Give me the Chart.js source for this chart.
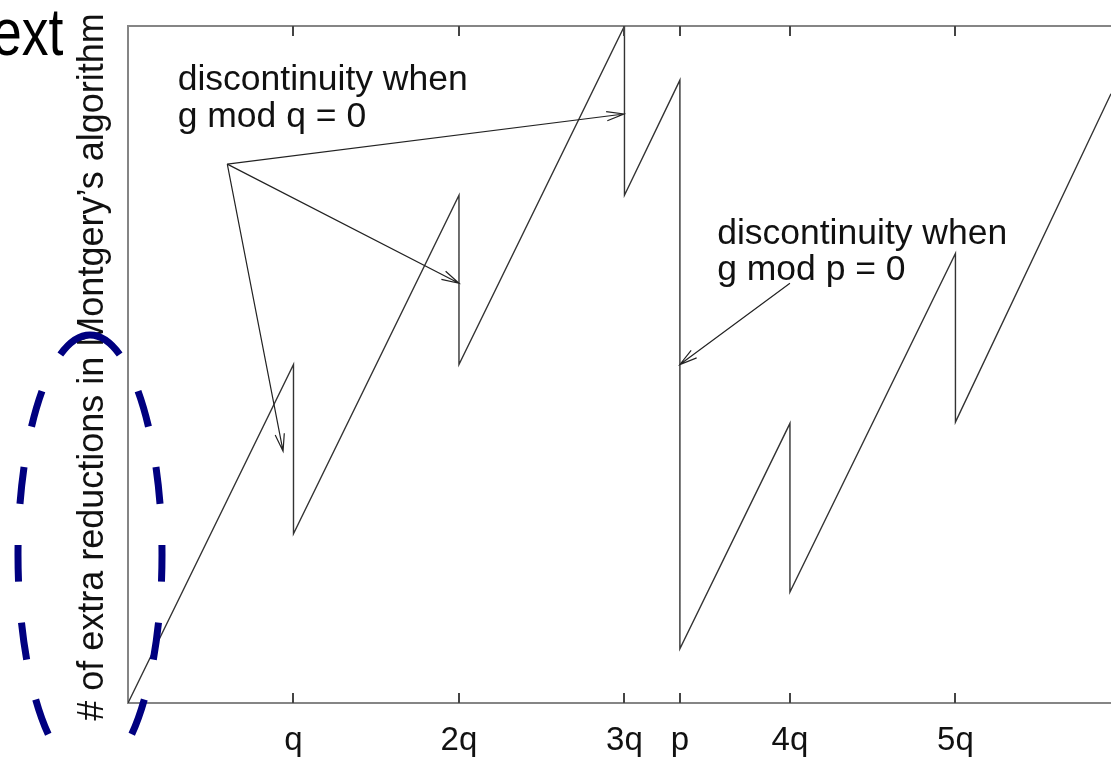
<!DOCTYPE html>
<html lang="en">
<head>
<meta charset="UTF-8">
<title>Extra reductions in Montgomery's algorithm</title>
<script src="https://cdn.jsdelivr.net/npm/chart.js"></script>
<style>
  body { margin: 0; background: #fff; overflow: hidden; }
  canvas { display: block; }
</style>
</head>
<body>
<canvas id="chart" width="1111" height="760"></canvas>
<script>
// g measured in units of q; p falls about a third of the way from 3q to 4q
const tickValues = [1, 2, 3, 3.335, 4, 5];
const tickLabels = ['q', '2q', '3q', 'p', '4q', '5q'];
const gValues = [0, 1, 1, 2, 2, 3, 3, 3.335, 3.335, 4, 4, 5, 5, 5.94];
const extraReductions = [0, 50, 25, 75, 50, 100, 75, 92, 8, 41.3, 16.4, 66.4, 41.5, 90];

const X_MAX = 5.94;
const AXIS_GREY = '#858585';
const FONT = '"Liberation Sans", Arial, sans-serif';

function arrow(ctx, x1, y1, x2, y2) {
  const a = Math.atan2(y2 - y1, x2 - x1), len = 18, spread = 0.26;
  ctx.beginPath();
  ctx.moveTo(x1, y1);
  ctx.lineTo(x2, y2);
  ctx.moveTo(x2 - len * Math.cos(a - spread), y2 - len * Math.sin(a - spread));
  ctx.lineTo(x2, y2);
  ctx.lineTo(x2 - len * Math.cos(a + spread), y2 - len * Math.sin(a + spread));
  ctx.stroke();
}

const overlay = {
  id: 'overlay',
  afterDraw(chart) {
    const ctx = chart.ctx;
    const area = chart.chartArea;
    const px = v => chart.scales.x.getPixelForValue(v);
    const py = v => chart.scales.y.getPixelForValue(v);
    ctx.save();

    // tick marks point into the plot, on both bottom and top edges
    ctx.strokeStyle = '#444';
    ctx.lineWidth = 2;
    tickValues.forEach(v => {
      const x = Math.round(px(v));
      ctx.beginPath();
      ctx.moveTo(x, area.bottom);
      ctx.lineTo(x, area.bottom - 10);
      ctx.moveTo(x, area.top);
      ctx.lineTo(x, area.top + 10);
      ctx.stroke();
    });

    // annotations
    ctx.fillStyle = '#111';
    ctx.font = '35.5px ' + FONT;
    ctx.textAlign = 'left';
    ctx.textBaseline = 'alphabetic';
    ctx.fillText('discontinuity when', px(0.3), py(90.6));
    ctx.fillText('g mod q = 0', px(0.3), py(90.6) + 37);
    ctx.fillText('discontinuity when', px(3.56), py(67.8));
    ctx.fillText('g mod p = 0', px(3.56), py(67.8) + 36);

    ctx.strokeStyle = '#222';
    ctx.lineWidth = 1.2;
    const fromX = px(0.6), fromY = py(79.6);
    arrow(ctx, fromX, fromY, px(2.997), py(87));
    arrow(ctx, fromX, fromY, px(2), py(62));
    arrow(ctx, fromX, fromY, px(0.937), py(37.2));
    arrow(ctx, px(4.0), py(62), px(3.335), py(50));

    // y axis title
    ctx.save();
    ctx.translate(103, 367);
    ctx.rotate(-Math.PI / 2);
    ctx.textAlign = 'center';
    ctx.font = '36px ' + FONT;
    ctx.fillText('# of extra reductions in Montgery\u2019s algorithm', 0, 0);
    ctx.restore();

    // leftover of the slide title
    ctx.save();
    ctx.translate(-8, 55);
    ctx.scale(0.8, 1);
    ctx.fillStyle = '#000';
    ctx.font = '67px ' + FONT;
    ctx.textAlign = 'left';
    ctx.fillText('ext', 0, 0);
    ctx.restore();

    // dashed highlight round the axis title, both halves start at the top
    ctx.strokeStyle = '#000080';
    ctx.lineWidth = 7;
    ctx.setLineDash([37, 41]);
    ctx.lineDashOffset = 0;
    ctx.beginPath();
    ctx.ellipse(90, 555, 72, 220, 0, -Math.PI / 2, Math.PI / 2, false);
    ctx.stroke();
    ctx.beginPath();
    ctx.ellipse(90, 555, 72, 220, 0, -Math.PI / 2, Math.PI / 2, true);
    ctx.stroke();

    ctx.restore();
  }
};

new Chart(document.getElementById('chart'), {
  type: 'line',
  data: {
    datasets: [{
      data: gValues.map((g, i) => ({ x: g, y: extraReductions[i] })),
      borderColor: '#333',
      borderWidth: 1.4,
      pointRadius: 0,
      tension: 0,
      fill: false
    }]
  },
  options: {
    responsive: false,
    animation: false,
    events: [],
    layout: { padding: 0 },
    plugins: { legend: { display: false }, tooltip: { enabled: false } },
    scales: {
      x: {
        type: 'linear',
        position: 'bottom',
        min: 0,
        max: X_MAX,
        afterBuildTicks: s => { s.ticks = tickValues.map(v => ({ value: v })); },
        afterFit: s => { s.height = 57; },
        grid: { drawOnChartArea: false, drawTicks: false },
        border: { color: AXIS_GREY, width: 2 },
        ticks: {
          autoSkip: false,
          maxRotation: 0,
          padding: 18,
          color: '#111',
          font: { family: FONT, size: 33 },
          callback: (v, i) => tickLabels[i]
        }
      },
      xTop: {
        type: 'linear',
        axis: 'x',
        position: 'top',
        min: 0,
        max: X_MAX,
        afterFit: s => { s.height = 26; },
        grid: { drawOnChartArea: false, drawTicks: false },
        border: { color: AXIS_GREY, width: 2 },
        ticks: { display: false }
      },
      y: {
        min: 0,
        max: 100,
        afterFit: s => { s.width = 128; },
        grid: { drawOnChartArea: false, drawTicks: false },
        border: { color: AXIS_GREY, width: 2 },
        ticks: { display: false }
      }
    }
  },
  plugins: [overlay]
});
</script>
</body>
</html>
